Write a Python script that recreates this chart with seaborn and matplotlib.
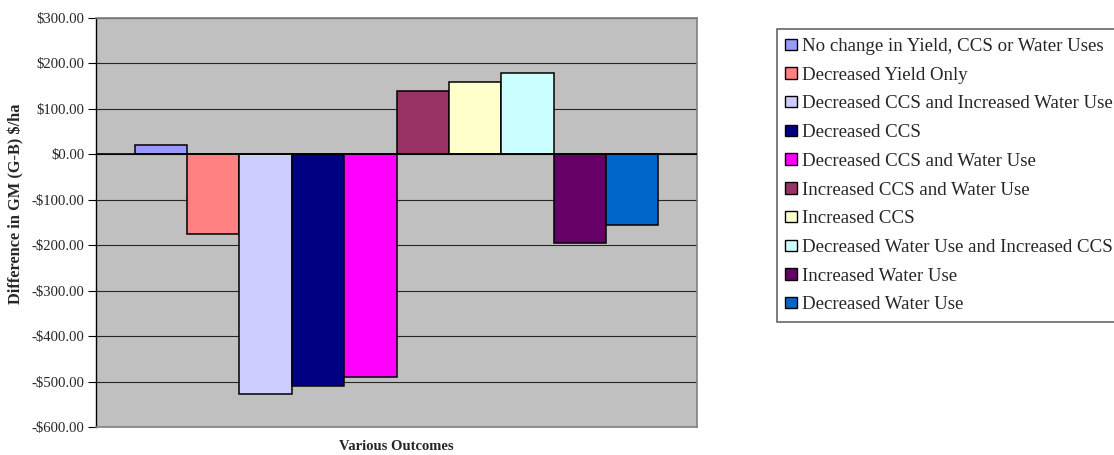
import matplotlib
matplotlib.use("Agg")
import matplotlib.pyplot as plt
import seaborn as sns
import pandas as pd
from matplotlib.ticker import FuncFormatter, MultipleLocator

outcomes = [
    "No change in Yield, CCS or Water Uses",
    "Decreased Yield Only",
    "Decreased CCS and Increased Water Use",
    "Decreased CCS",
    "Decreased CCS and Water Use",
    "Increased CCS and Water Use",
    "Increased CCS",
    "Decreased Water Use and Increased CCS",
    "Increased Water Use",
    "Decreased Water Use",
]
gm_difference = [21, -175, -527, -509, -489, 140, 159, 179, -194, -156]
bar_colors = ["#9999FF", "#FF8080", "#CCCCFF", "#000080", "#FF00FF",
              "#993366", "#FFFFCC", "#CCFFFF", "#660066", "#0066CC"]

df = pd.DataFrame({"Outcome": outcomes, "Difference": gm_difference})

sns.set_style("white")
plt.rcParams["font.family"] = ["Liberation Serif", "DejaVu Serif"]

fig = plt.figure(figsize=(11.14, 4.55), dpi=100)
ax = fig.add_axes([0.0862, 0.0615, 0.5395, 0.8989])
ax.set_facecolor("#C0C0C0")

sns.barplot(data=df, x="Outcome", y="Difference", hue="Outcome",
            palette=bar_colors, saturation=1, width=1.0, dodge=False,
            legend=False, edgecolor="black", linewidth=1.1, ax=ax, zorder=3)

ax.set_ylim(-600, 300)
ax.set_xlim(-1.238, 10.238)
ax.yaxis.set_major_locator(MultipleLocator(100))
ax.yaxis.set_major_formatter(FuncFormatter(
    lambda v, _: f"-${abs(v):,.2f}" if v < 0 else f"${v:,.2f}"))
ax.grid(axis="y", color="#262626", linewidth=0.8, zorder=1)
ax.set_axisbelow(True)
ax.axhline(0, color="black", linewidth=1.2, zorder=4)

ax.set_xticks([])
ax.tick_params(axis="y", direction="out", length=5.5, width=0.8,
               color="black", labelsize=10.6, pad=3, left=True)

for side in ("top", "right", "bottom"):
    ax.spines[side].set_color("#808080")
    ax.spines[side].set_linewidth(1.2)
ax.spines["left"].set_color("black")
ax.spines["left"].set_linewidth(1.0)

ax.set_xlabel("Various Outcomes", fontsize=10.5, fontweight="bold")
ax.xaxis.set_label_coords(0.5, -0.031)
ax.set_ylabel("Difference in GM (G-B) $/ha", fontsize=11.8,
              fontweight="bold")
ax.yaxis.set_label_coords(-0.12, 0.546)

handles = [plt.Rectangle((0, 0), 1, 1, facecolor=c, edgecolor="black",
                         linewidth=1.0) for c in bar_colors]
leg = fig.legend(handles, outcomes, loc="upper left",
                 bbox_to_anchor=(0.6972, 0.9352), frameon=True,
                 fancybox=False, fontsize=13.6, borderaxespad=0,
                 handlelength=0.62, handleheight=0.55, handletextpad=0.25,
                 labelspacing=0.62, borderpad=0.45)
leg.get_frame().set_edgecolor("#404040")
leg.get_frame().set_linewidth(1.2)

fig.savefig("out.png", dpi=100)
